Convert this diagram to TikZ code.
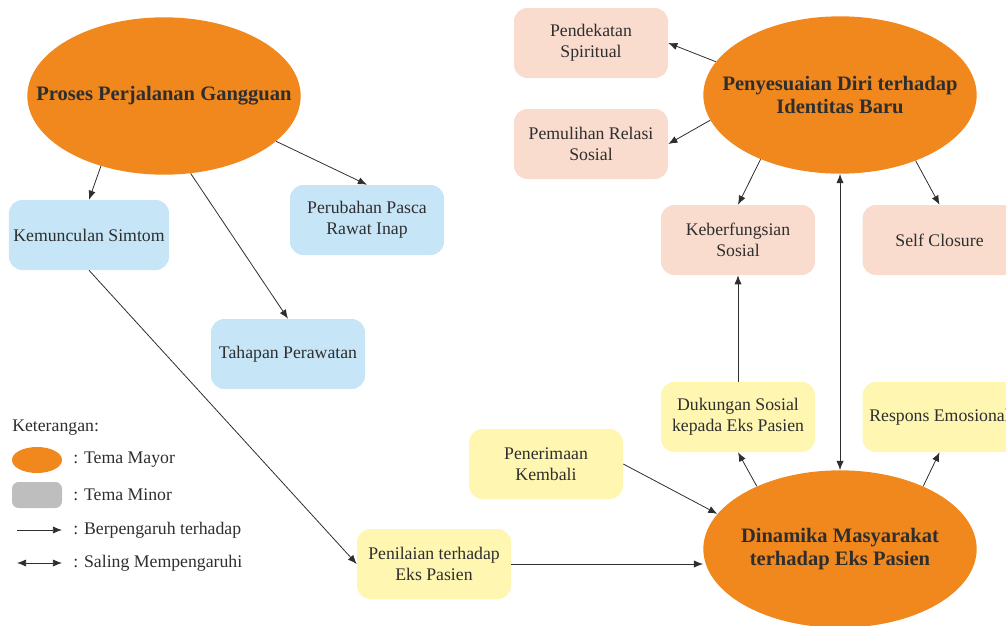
\documentclass[tikz,border=0pt]{standalone}
\usepackage{fontspec}
\setmainfont{Liberation Serif}
\usepackage{xcolor}
\usetikzlibrary{arrows.meta,positioning,shapes.geometric}
\definecolor{oranye}{HTML}{F0881E}
\definecolor{biru}{HTML}{C6E6F8}
\definecolor{salem}{HTML}{F9DCCD}
\definecolor{kuning}{HTML}{FFF6B2}
\definecolor{abu}{HTML}{BEBEBE}
\definecolor{teks}{HTML}{2E2E2E}

\begin{document}
\begin{tikzpicture}[
  x=0.75pt,y=-0.75pt,
  every node/.style={text=teks,font=\fontsize{13.3}{15.5}\selectfont},
  mayor/.style={ellipse,fill=oranye,inner sep=0pt,minimum width=205pt,minimum height=118pt},
  mayorteks/.style={align=center,inner sep=0pt,font=\fontsize{15.4}{17.5}\selectfont\bfseries},
  minor/.style={rectangle,rounded corners=10pt,align=center,minimum width=115.5pt,minimum height=52.5pt},
  arrow/.style={-{Latex[length=2.4mm,width=1.9mm]},draw=teks,line width=.6pt},
  both/.style={{Latex[length=2.4mm,width=1.9mm]}-{Latex[length=2.4mm,width=1.9mm]},draw=teks,line width=.6pt}]
\clip (0,0) rectangle (1006,625);
% tema mayor
\node[mayor,label={[mayorteks]center:Proses Perjalanan Gangguan}] (proses) at (164,96) {};
\node[mayor,label={[mayorteks]center:{Penyesuaian Diri terhadap\\Identitas Baru}}] (penyesuaian) at (840,95) {};
\node[mayor,label={[mayorteks]center:{Dinamika Masyarakat\\terhadap Eks Pasien}}] (dinamika) at (840,549) {};
% tema minor
\node[minor,fill=biru] (simtom) at (89,235) {Kemunculan Simtom};
\node[minor,fill=biru] (perubahan) at (367,220) {Perubahan Pasca\\Rawat Inap};
\node[minor,fill=biru] (tahapan) at (288,354) {Tahapan Perawatan};
\node[minor,fill=salem] (spiritual) at (591,43) {Pendekatan\\Spiritual};
\node[minor,fill=salem] (relasi) at (591,144) {Pemulihan Relasi\\Sosial};
\node[minor,fill=salem] (fungsi) at (738,240) {Keberfungsian\\Sosial};
\node[minor,fill=salem,right=35.25pt of fungsi] (closure) {Self Closure};
\node[minor,fill=kuning] (dukungan) at (738,417) {Dukungan Sosial\\kepada Eks Pasien};
\node[minor,fill=kuning,right=35.25pt of dukungan] (respons) {Respons Emosional};
\node[minor,fill=kuning] (penerimaan) at (546,464) {Penerimaan\\Kembali};
\node[minor,fill=kuning] (penilaian) at (434,564) {Penilaian terhadap\\Eks Pasien};
% keterangan
\node[anchor=west,inner sep=0pt] (ket) at (12,428) {Keterangan:};
\node[ellipse,fill=oranye,minimum width=37.5pt,minimum height=19.5pt,inner sep=0pt] (lgmayor) at (37,460) {};
\node[anchor=west,inner sep=0pt] (tmayor) at (73,460) {: Tema Mayor};
\node[rectangle,rounded corners=5pt,fill=abu,minimum width=37.5pt,minimum height=19.5pt,inner sep=0pt] (lgminor) at (37,495) {};
\node[anchor=west,inner sep=0pt] (tminor) at (73,495) {: Tema Minor};
\coordinate (a1) at (17,530); \coordinate (a2) at (62,530);
\node[anchor=west,inner sep=0pt] (tarah) at (73,530) {: Berpengaruh terhadap};
\coordinate (b1) at (17,563); \coordinate (b2) at (62,563);
\node[anchor=west,inner sep=0pt] (tdua) at (73,563) {: Saling Mempengaruhi};
\draw[arrow] (a1)--(a2); \draw[both] (b1)--(b2);
% hubungan
\draw[arrow] (proses.228)--(simtom.north); \draw[arrow] (proses.289)--(tahapan.north);
\draw[arrow] (proses.338)--(perubahan.north); \draw[arrow] (simtom.south)--(penilaian.west);
\draw[arrow] (penilaian.east)--(penilaian.east -| dinamika.west); \draw[arrow] (penerimaan.east)--(dinamika.164);
\draw[arrow] (dinamika.143)--(dukungan.south); \draw[arrow] (dinamika.37)--(respons.south);
\draw[arrow] (dukungan)--(fungsi); \draw[both] (dinamika)--(penyesuaian);
\draw[arrow] (penyesuaian.165)--(spiritual.east); \draw[arrow] (penyesuaian.191)--(relasi.east);
\draw[arrow] (penyesuaian.219)--(fungsi.north); \draw[arrow] (penyesuaian.319)--(closure.north);
\end{tikzpicture}
\end{document}
